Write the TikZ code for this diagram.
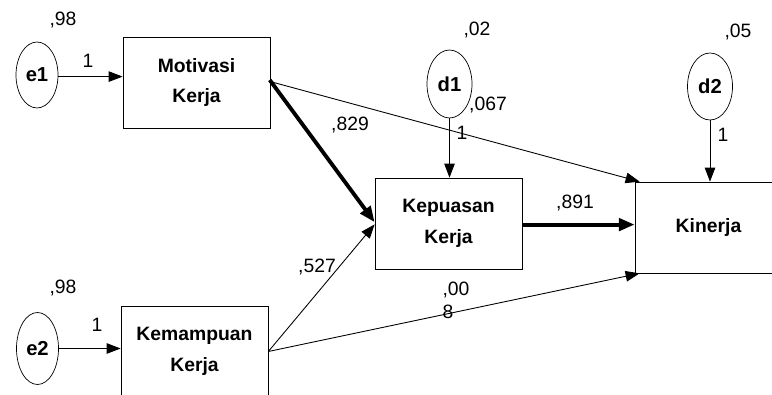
\documentclass[tikz,border=0pt]{standalone}
\usepackage{fontspec}
\setmainfont{Liberation Sans}
\usetikzlibrary{shapes.geometric,arrows.meta}
\begin{document}
\begin{tikzpicture}[scale=0.2]
\tikzstyle{every node}+=[inner sep=0pt, font=\fontsize{11}{13}\selectfont]
\tikzstyle{var}=[draw, rectangle, minimum width=2.94cm, minimum height=1.82cm, align=center, font=\fontsize{11}{17.5}\selectfont\bfseries]
\tikzstyle{err}=[draw, ellipse, font=\fontsize{11.5}{13}\selectfont\bfseries]
\tikzstyle{link}=[-{Triangle[length=8pt,width=6pt]}, line width=0.5pt]
\tikzstyle{strong}=[-{Triangle[length=9pt,width=7pt]}, line width=2.2pt]
\useasboundingbox (0,0) rectangle (77.2,-39.5);
% variables
\node [var] (mot) at (19.65,-8.25) {Motivasi\\Kerja};
\node [var] (kem) at (19.45,-35.15) {Kemampuan\\Kerja};
\node [var] (kep) at (44.85,-22.35) {Kepuasan\\Kerja};
\node [var] (kin) at (70.85,-22.75) {Kinerja};
% error terms
\node [err, minimum width=0.84cm, minimum height=1.32cm] (e1) at (3.7,-7.5) {e1};
\node [err, minimum width=0.84cm, minimum height=1.44cm] (e2) at (3.75,-34.85) {e2};
\node [err, minimum width=0.9cm, minimum height=1.36cm] (d1) at (44.95,-8.4) {d1};
\node [err, minimum width=0.9cm, minimum height=1.34cm] (d2) at (71.0,-8.65) {d2};
% paths
\draw [link] ([yshift=-0.16cm]e1.east) -- ([yshift=-0.16cm]e1.east -| mot.west);
\draw [link] (e2.east) -- (e2.east -| kem.west);
\draw [link] (d1.south) -- (d1.south |- kep.north);
\draw [link] (d2.south) -- (d2.south |- kin.north);
\draw [strong] ([xshift=-0.06cm,yshift=0.25cm]mot.east) -- ([yshift=0.13cm]kep.west);
\draw [link] ([yshift=0.09cm]mot.east) -- ([xshift=0.5cm]kin.north west);
\draw [link] (kem.east) -- ([yshift=-0.09cm]kep.west);
\draw [link] (kem.east) -- ([xshift=0.5cm]kin.south west);
\draw [strong] ([yshift=-0.11cm]kep.east) -- ([yshift=-0.11cm]kep.east -| kin.west);
% estimates
\node (r1) at (6.3,-2.0) {,98};
\node (w1) at (8.8,-6.1) {1};
\node (r2) at (6.3,-28.8) {,98};
\node (w2) at (9.7,-32.5) {1};
\node (r3) at (47.7,-3.0) {,02};
\node (p1) at (48.8,-10.5) {,067};
\node (w3) at (46.2,-13.3) {1};
\node (r4) at (73.8,-3.2) {,05};
\node (w4) at (72.3,-13.5) {1};
\node (p2) at (35.0,-12.5) {,829};
\node (p3) at (31.7,-26.7) {,527};
\node (p4) at (57.5,-20.3) {,891};
\node [align=left] (p5) at (45.6,-30.0) {,00\\8};
\end{tikzpicture}
\end{document}
